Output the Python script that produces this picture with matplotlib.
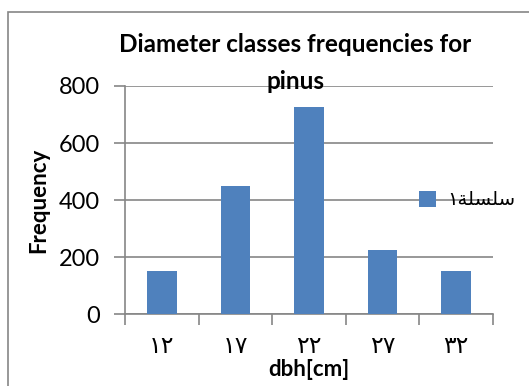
import matplotlib.pyplot as plt
from matplotlib.patches import Rectangle

# chart data
classes = ["١٢", "١٧", "٢٢", "٢٧", "٣٢"]
freq = [150, 450, 725, 225, 150]
series_name = "سلسلة١"
title = "Diameter classes frequencies for\npinus"

# matplotlib has no arabic shaping, so map letters to presentation forms
forms = {"س": ("\uFEB1", "\uFEB3", "\uFEB4", "\uFEB2"),
         "ل": ("\uFEDD", "\uFEDF", "\uFEE0", "\uFEDE"),
         "ة": ("\uFE93", "\uFE93", "\uFE94", "\uFE94")}


def shape(word):
    out = []
    letters = [c for c in word]
    for i, c in enumerate(letters):
        if c not in forms:
            out.append(c)
            continue
        prev = i > 0 and letters[i - 1] in forms and letters[i - 1] != "ة"
        nxt = i < len(letters) - 1 and letters[i + 1] in forms
        if prev and nxt:
            out.append(forms[c][2])
        elif prev:
            out.append(forms[c][3])
        elif nxt:
            out.append(forms[c][1])
        else:
            out.append(forms[c][0])
    return "".join(reversed(out))


plt.rcParams["font.family"] = ["Lato", "DejaVu Sans"]
grey = "#868686"
blue = "#4F81BD"

fig = plt.figure(figsize=(5.29, 3.86), dpi=100)
ax = fig.add_axes([125 / 529, 1 - 314.3 / 386, 368 / 529, 228.3 / 386])

x = list(range(len(classes)))
ax.bar(x, freq, width=0.4, color=blue, zorder=3, label=shape(series_name))
ax.set_xlim(-0.5, len(classes) - 0.5)
ax.set_ylim(0, 800)
ax.set_yticks([0, 200, 400, 600, 800])
ax.yaxis.grid(True, color=grey, linewidth=1.2, zorder=0)
for s in ["top", "right"]:
    ax.spines[s].set_visible(False)
for s in ["left", "bottom"]:
    ax.spines[s].set_color(grey)
    ax.spines[s].set_linewidth(1.2)
ax.tick_params(axis="y", length=8, width=1.2, color=grey, labelsize=17, pad=10)
ax.set_xticks([i - 0.5 for i in range(len(classes) + 1)])
ax.set_xticklabels([])
ax.set_xticks(x, minor=True)
ax.set_xticklabels(classes, minor=True, family="DejaVu Sans", fontsize=17)
ax.tick_params(axis="x", which="major", length=8, width=1.2, color=grey)
ax.tick_params(axis="x", which="minor", length=0, pad=14)

ax.set_ylabel("Frequency", fontsize=16, fontweight="bold", labelpad=7)
ax.set_xlabel("dbh[cm]", fontsize=16, fontweight="bold", labelpad=1)
fig.text(295 / 529, 1 - 63 / 386, title, ha="center", va="center",
         fontsize=17.5, fontweight="bold", linespacing=1.7)

fig.legend(loc="center left", bbox_to_anchor=(419 / 529, 1 - 200 / 386),
           frameon=False, handlelength=0.85, handleheight=0.85,
           handletextpad=0.6, borderpad=0, borderaxespad=0,
           prop={"family": "DejaVu Sans", "size": 14})

# chart area border
fig.patches.append(Rectangle((7.5 / 529, -0.05), 1.1, 1 - 11.7 / 386 + 0.05,
                             transform=fig.transFigure, fill=False,
                             edgecolor=grey, linewidth=1.2))

fig.savefig("out.png", dpi=100)
